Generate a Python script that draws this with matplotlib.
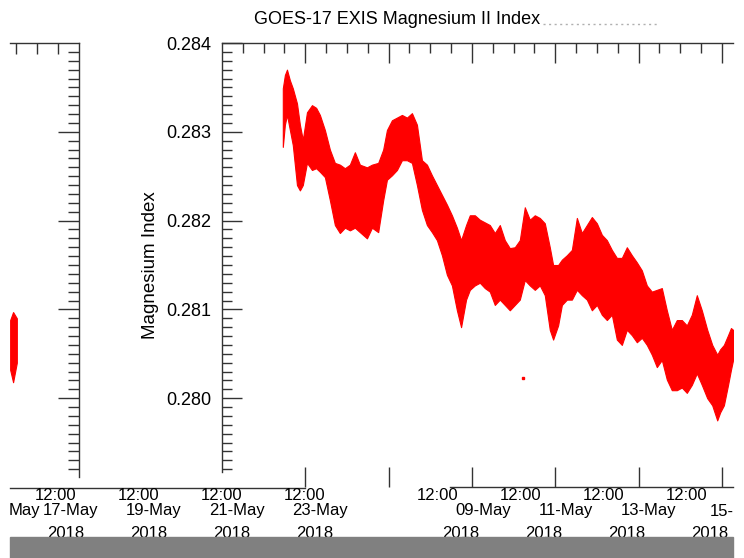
import matplotlib
matplotlib.use("Agg")
import matplotlib.pyplot as plt
from matplotlib.lines import Line2D
from matplotlib.patches import Rectangle
import numpy as np

plt.rcParams['font.family'] = ['Liberation Sans', 'DejaVu Sans']

# time in day-of-May 2018, index envelope (max / min of the dense 1-min samples)
t_day = [4.46, 4.51, 4.56, 4.63, 4.70, 4.80, 4.87, 4.94, 5.04, 5.16, 5.26, 5.35, 5.47, 5.59,
         5.71, 5.83, 5.95, 6.07, 6.19, 6.31, 6.48, 6.60, 6.75, 6.87, 6.96, 7.08, 7.20, 7.32,
         7.44, 7.56, 7.68, 7.80, 7.92, 8.04, 8.16, 8.28, 8.40, 8.52, 8.64, 8.74, 8.86, 8.95,
         9.07, 9.19, 9.31, 9.43, 9.55, 9.67, 9.79, 9.91, 10.03, 10.15, 10.27, 10.39, 10.51,
         10.63, 10.75, 10.87, 10.95, 11.07, 11.16, 11.28, 11.40, 11.52, 11.64, 11.76, 11.88,
         12.00, 12.12, 12.24, 12.36, 12.48, 12.60, 12.72, 12.84, 12.96, 13.08, 13.20, 13.32,
         13.44, 13.56, 13.68, 13.80, 13.92, 14.04, 14.16, 14.28, 14.40, 14.52, 14.65, 14.77,
         14.89, 14.96, 15.05, 15.15, 15.22, 15.27]
mg_hi = [0.28349, 0.28364, 0.28370, 0.28358, 0.28349, 0.28332, 0.28308, 0.28291, 0.28322,
         0.28330, 0.28327, 0.28319, 0.28302, 0.28280, 0.28265, 0.28263, 0.28259, 0.28263,
         0.28277, 0.28263, 0.28260, 0.28263, 0.28265, 0.28280, 0.28302, 0.28313, 0.28316,
         0.28319, 0.28316, 0.28321, 0.28308, 0.28268, 0.28263, 0.28251, 0.28240, 0.28229,
         0.28218, 0.28206, 0.28192, 0.28178, 0.28195, 0.28206, 0.28206, 0.28201, 0.28198,
         0.28195, 0.28186, 0.28195, 0.28178, 0.28169, 0.28170, 0.28178, 0.28215, 0.28201,
         0.28206, 0.28203, 0.28197, 0.28170, 0.28150, 0.28150, 0.28156, 0.28161, 0.28167,
         0.28203, 0.28186, 0.28195, 0.28204, 0.28197, 0.28184, 0.28178, 0.28167, 0.28158,
         0.28158, 0.28170, 0.28161, 0.28153, 0.28144, 0.28127, 0.28120, 0.28122, 0.28124,
         0.28099, 0.28077, 0.28088, 0.28088, 0.28082, 0.28094, 0.28116, 0.28099, 0.28077,
         0.28060, 0.28049, 0.28055, 0.28060, 0.28071, 0.28079, 0.28077]
mg_lo = [0.28283, 0.28308, 0.28319, 0.28302, 0.28285, 0.28240, 0.28234, 0.28240, 0.28265,
         0.28257, 0.28259, 0.28255, 0.28249, 0.28223, 0.28195, 0.28186, 0.28192, 0.28189,
         0.28192, 0.28187, 0.28180, 0.28192, 0.28187, 0.28223, 0.28246, 0.28251, 0.28257,
         0.28268, 0.28268, 0.28265, 0.28240, 0.28212, 0.28195, 0.28187, 0.28178, 0.28161,
         0.28139, 0.28127, 0.28099, 0.28080, 0.28111, 0.28122, 0.28127, 0.28130, 0.28124,
         0.28120, 0.28105, 0.28111, 0.28105, 0.28099, 0.28105, 0.28111, 0.28133, 0.28127,
         0.28122, 0.28127, 0.28116, 0.28077, 0.28066, 0.28082, 0.28105, 0.28111, 0.28111,
         0.28122, 0.28116, 0.28111, 0.28099, 0.28105, 0.28094, 0.28088, 0.28094, 0.28066,
         0.28060, 0.28077, 0.28071, 0.28063, 0.28068, 0.28060, 0.28049, 0.28035, 0.28043,
         0.28021, 0.28009, 0.28009, 0.28012, 0.28006, 0.28015, 0.28028, 0.28015, 0.28000,
         0.27992, 0.27975, 0.27984, 0.27992, 0.28015, 0.28032, 0.28043]
stray_t = [10.23]
stray_v = [0.28023]

# fragment in the left-hand panel
left_t = [15.36, 15.43, 15.52]
left_hi = [0.28088, 0.28097, 0.28090]
left_lo = [0.28032, 0.28018, 0.28040]

title = 'GOES-17 EXIS Magnesium II Index'
ylab = 'Magnesium Index'
yticks = [0.280, 0.281, 0.282, 0.283, 0.284]
ytick_labels = ['0.280', '0.281', '0.282', '0.283', '0.284']

# glitched date labels under the axis (two overlapping sets)
lab_left_days = ['17-May', '19-May', '21-May', '23-May']
lab_right_days = ['09-May', '11-May', '13-May']

W, H = 744, 558
fig = plt.figure(figsize=(W / 100, H / 100), dpi=100)


def fx(x):
    return x / W


def fy(y):
    return 1 - y / H


ink = '#333333'
red = '#ff0000'
fs = 13
fsd = 12

# main axes
ax = fig.add_axes([fx(222), fy(487), fx(733) - fx(222), fy(43) - fy(487)])
ax.fill_between(t_day, mg_lo, mg_hi, color=red, lw=0.8, edgecolor=red)
ax.plot(stray_t, stray_v, 's', color=red, ms=1.5)
ax.set_xlim(3.0, 3.0 + 511 / 41.65)
ax.set_ylim(0.279, 0.284)
ax.set_yticks(yticks)
ax.set_yticklabels(ytick_labels, fontsize=fs)
ax.set_yticks([0.2792 + 0.0001 * i for i in range(48) if (i + 2) % 10 != 0], minor=True)
ax.set_xticks([5, 7, 9, 11, 13, 15])
ax.set_xticks(np.arange(3.5, 15.3, 0.5), minor=True)
ax.tick_params(which='both', direction='in', color=ink, width=1.0,
               top=True, bottom=True, labelbottom=False, pad=8)
ax.tick_params(which='major', length=14.4)
ax.tick_params(which='minor', length=7.2, bottom=False)
ax.set_ylabel(ylab, fontsize=13.5, labelpad=5)
ax.spines['right'].set_visible(False)
for s in ['left', 'top', 'bottom']:
    ax.spines[s].set_color(ink)
    ax.spines[s].set_linewidth(1.0)
ax.spines['left'].set_bounds(0.27917, 0.284)
ax.spines['bottom'].set_bounds(3.0 + 228 / 41.65, 3.0 + 511 / 41.65)
ax.patch.set_alpha(0)

# left-hand partial panel
axl = fig.add_axes([fx(10), fy(487), fx(79) - fx(10), fy(43) - fy(487)])
axl.fill_between(left_t, left_lo, left_hi, color=red, lw=0.8, edgecolor=red)
axl.set_xlim(15.356, 15.356 + 69 / 41.65)
axl.set_ylim(0.279, 0.284)
axl.set_xticks([])
axl.set_xticks([15.5, 16.0, 16.5], minor=True)
axl.set_yticks([0.280, 0.281, 0.282, 0.283])
axl.set_yticks([0.2792 + 0.0001 * i for i in range(48) if (i + 2) % 10 != 0], minor=True)
axl.yaxis.tick_right()
axl.tick_params(which='both', direction='in', color=ink, width=1.0,
                top=True, bottom=False, left=False, right=True,
                labelleft=False, labelright=False, labelbottom=False)
axl.tick_params(which='major', length=15)
axl.tick_params(which='minor', length=7.6)
for s in ['left', 'bottom']:
    axl.spines[s].set_visible(False)
for s in ['right', 'top']:
    axl.spines[s].set_color(ink)
    axl.spines[s].set_linewidth(1.0)
axl.spines['right'].set_bounds(0.27911, 0.284)
axl.patch.set_alpha(0)

# title and glitch trail
fig.text(fx(397), fy(19), title, ha='center', va='center', fontsize=fs)
fig.add_artist(Line2D([fx(543), fx(657)], [fy(24), fy(24)], color='#b0b0b0',
                      lw=1.0, ls=(0, (1.5, 2.5))))

# bottom baseline pieces
fig.add_artist(Line2D([fx(10), fx(305)], [fy(488), fy(488)], color=ink, lw=1.0))

r1, r2, r3 = 496, 511, 533

# date labels, left set
fig.text(fx(9), fy(r2), 'May', ha='left', va='center', fontsize=fsd)
for k, d in enumerate(lab_left_days):
    x0 = 56 + 83 * k
    fig.text(fx(x0), fy(r1), '12:00', ha='center', va='center', fontsize=fsd)
    fig.text(fx(x0 + 15), fy(r2), d, ha='center', va='center', fontsize=fsd)
    fig.text(fx(x0 + 10), fy(r3), '2018', ha='center', va='center', fontsize=fsd)

# date labels, right set
for k, d in enumerate(lab_right_days):
    x0 = 438 + 83 * k
    fig.text(fx(x0), fy(r1), '12:00', ha='center', va='center', fontsize=fsd)
    fig.text(fx(x0 + 45), fy(r2), d, ha='center', va='center', fontsize=fsd)
    fig.text(fx(x0 + 23), fy(r3), '2018', ha='center', va='center', fontsize=fsd)
fig.text(fx(438 + 83 * 3), fy(r1), '12:00', ha='center', va='center', fontsize=fsd)
fig.text(fx(438 + 83 * 3 + 23), fy(r3), '2018', ha='center', va='center', fontsize=fsd)
fig.text(fx(734), fy(r2), '15-', ha='right', va='center', fontsize=fsd)

# grey strip at the bottom
fig.add_artist(Rectangle((fx(10), 0), fx(733) - fx(10), fy(537), color='#808080', zorder=10))

fig.savefig('out.png', dpi=100)
plt.close(fig)
